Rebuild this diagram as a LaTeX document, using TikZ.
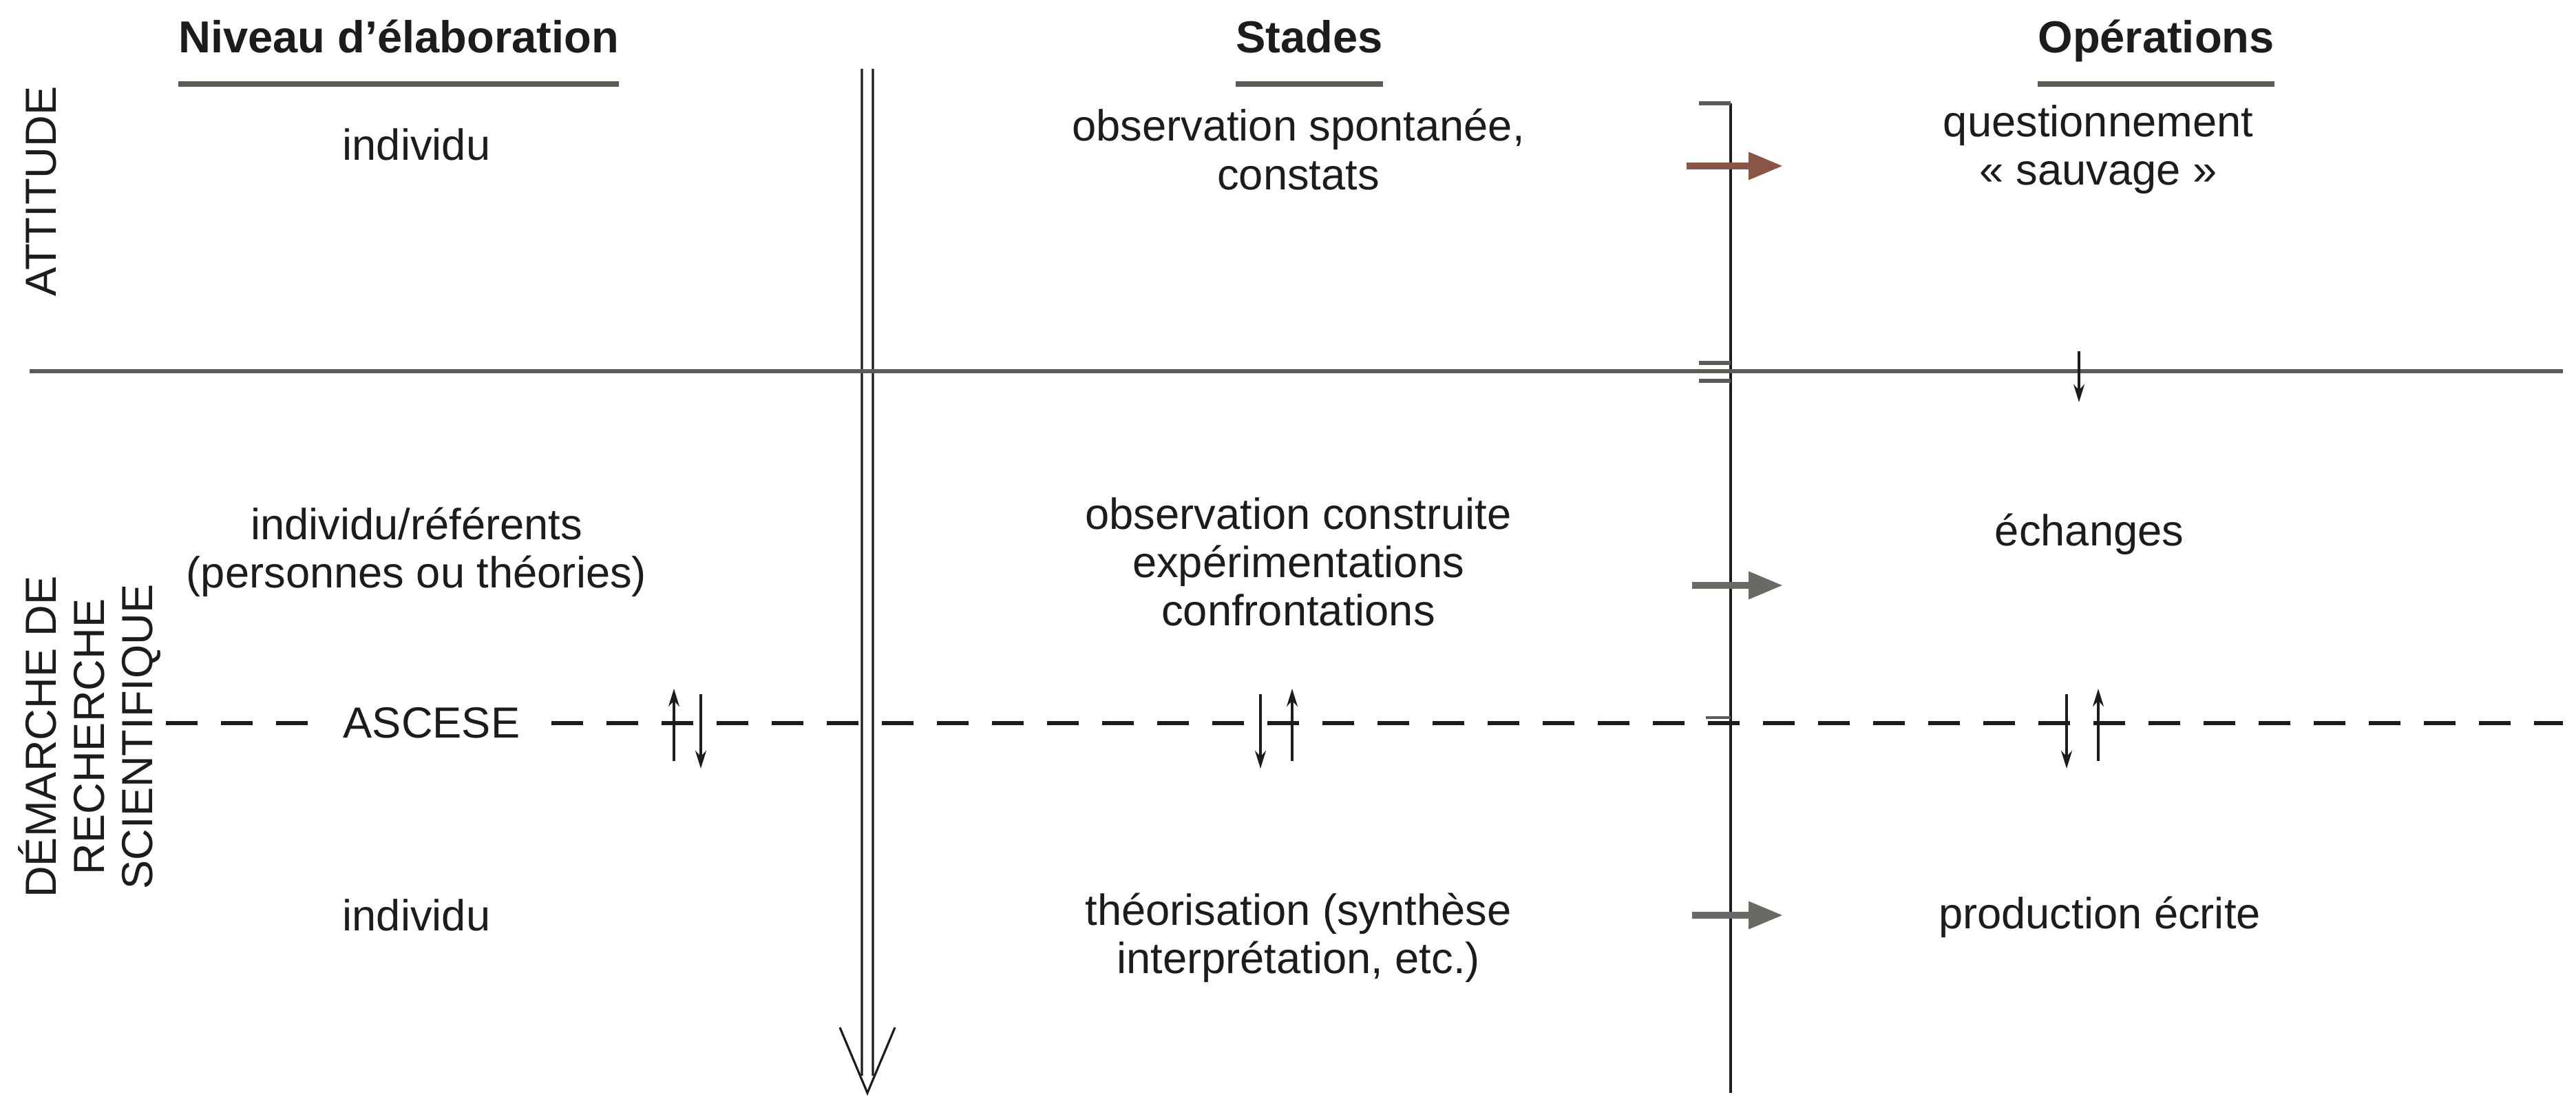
\documentclass[tikz,border=0pt]{standalone}
\usepackage{fontspec}
\setmainfont{Liberation Sans}
\newfontfamily\sidefont{Liberation Sans}
\usetikzlibrary{arrows.meta,positioning,calc}
\definecolor{cInk}{HTML}{1c1c1c}
\definecolor{cRule}{HTML}{5c5c56}
\definecolor{cFlow}{HTML}{6a6a64}
\definecolor{cRust}{HTML}{8a5446}
\tikzset{
  colhead/.style={font=\fontsize{18.5}{22}\selectfont\bfseries,text=cInk,inner sep=0pt,anchor=base},
  ulbar/.style={line width=2.4pt,cRule},
  cell/.style={font=\fontsize{18}{20}\selectfont,align=center,text=cInk},
  side/.style={font=\sidefont\fontsize{18}{19.8}\selectfont,align=center,rotate=90,text=cInk},
  frule/.style={line width=1.8pt,cRule},
  dashrule/.style={line width=1.5pt,cInk,dash pattern=on 4.6mm off 3.4mm},
  vline/.style={line width=0.9pt,cInk},
  nick/.style={line width=1.6pt,cRule},
  flow/.style={-{Triangle[length=5mm,width=3.8mm]},line width=2.8pt,cFlow},
  swap/.style={-{Stealth[length=2.6mm,width=1.6mm]},line width=0.9pt,cInk},
}

\begin{document}
\begin{tikzpicture}
  \useasboundingbox (0,0) rectangle (37.42,-16.05);

  % column heads
  \node[colhead] (hLevel) at (5.79,-0.77) {Niveau d'élaboration};
  \node[colhead] (hStage) at (19.02,-0.77) {Stades};
  \node[colhead] (hOper) at (31.32,-0.77) {Opérations};
  \foreach \h in {hLevel,hStage,hOper}
    \draw[ulbar] (\h.west|-0,-1.22) -- (\h.east|-0,-1.22);

  % side labels
  \node[side] (sAtt) at (0.60,-2.78) {ATTITUDE};
  \node[side] (sDem) at (1.30,-10.70) {DÉMARCHE DE\\RECHERCHE\\SCIENTIFIQUE};

  % long double arrow
  \coordinate (dTop) at (12.60,-1.00);
  \coordinate (dTip) at (12.60,-15.87);
  \draw[vline] ([xshift=-0.8mm]dTop) -- ($(dTip)+(-0.08,0.25)$);
  \draw[vline] ([xshift=0.8mm]dTop) -- ($(dTip)+(0.08,0.25)$);
  \draw[vline] ($(dTip)+(-0.40,0.95)$) -- (dTip) -- ($(dTip)+(0.40,0.95)$);

  % right rail
  \coordinate (rTop) at (25.14,-1.50);
  \coordinate (rBot) at (25.14,-15.87);
  \draw[vline,line width=1.1pt] (rTop) -- (rBot);
  \draw[nick] (rTop) -- ++(-0.46,0);

  % attitude / research split
  \coordinate (sL) at (0.43,-5.39);
  \coordinate (sR) at (37.23,-5.39);
  \draw[frule] (sL) -- (sR);
  \draw[nick] (24.68,-5.27) -- (25.14,-5.27);
  \draw[nick] (24.68,-5.53) -- (25.14,-5.53);
  \draw[swap] (30.20,-5.10) -- (30.20,-5.84);

  % ascese line
  \coordinate (aL) at (2.41,-10.50);
  \coordinate (aR) at (37.23,-10.50);
  \draw[dashrule] (aL) -- (aR);
  \node[cell,fill=white,inner xsep=3mm] (asc) at (6.27,-10.50) {ASCESE};
  \draw[nick,line width=1.2pt] (24.78,-10.42) -- (25.14,-10.42);
  \foreach \u/\d in {9.79/10.18, 18.77/18.31, 30.48/30.02} {
    \draw[swap] (\u,-11.05) -- (\u,-10.00);
    \draw[swap] (\d,-10.08) -- (\d,-11.16);
  }

  % row 1
  \node[cell] (r1lev) at (6.05,-2.10) {individu};
  \node[cell] (r1sta) at (18.86,-2.17) {observation spontanée,\\constats};
  \node[cell] (r1op) at (30.48,-2.17) {questionnement\\«~sauvage~»};
  \coordinate (f1a) at (24.50,-2.41);
  \coordinate (f1b) at (25.90,-2.41);
  \draw[flow,cRust] (f1a) -- (f1b);

  % row 2
  \node[cell] (r2lev) at (6.05,-8.02) {individu/référents\\(personnes ou théories)};
  \node[cell] (r2sta) at (18.86,-8.16) {observation construite\\expérimentations\\confrontations};
  \node[cell] (r2op) at (30.35,-7.76) {échanges};
  \coordinate (f2a) at (24.58,-8.50);
  \coordinate (f2b) at (25.90,-8.50);
  \draw[flow] (f2a) -- (f2b);

  % row 3
  \node[cell] (r3lev) at (6.05,-13.29) {individu};
  \node[cell] (r3sta) at (18.86,-13.62) {théorisation (synthèse\\interprétation, etc.)};
  \node[cell] (r3op) at (30.50,-13.32) {production écrite};
  \coordinate (f3a) at (24.58,-13.29);
  \coordinate (f3b) at (25.90,-13.29);
  \draw[flow] (f3a) -- (f3b);
\end{tikzpicture}
\end{document}
